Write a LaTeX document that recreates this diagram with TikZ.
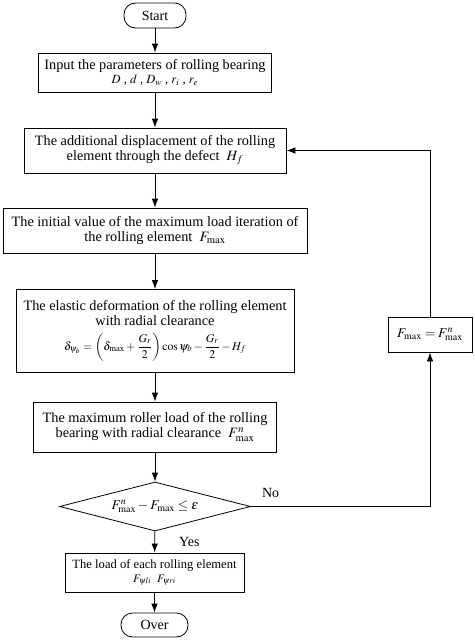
\documentclass[tikz,border=0pt]{standalone}
\usepackage{amsmath}
\usepackage{mathptmx}
\usepackage{fontspec}
\setmainfont{Liberation Serif}
\usepackage{tikz}
\usetikzlibrary{shapes.geometric,arrows.meta}

\begin{document}
\begin{tikzpicture}[x=1pt,y=1pt,yscale=-1,xscale=1,
    procbox/.style={draw,line width=0.8pt,inner sep=0pt,align=center,font=\fontsize{14.3}{14.9}\selectfont},
    termbox/.style={draw,line width=0.8pt,rounded corners=11.5pt,inner sep=0pt,font=\fontsize{14}{15}\selectfont},
    decbox/.style={draw,diamond,line width=0.8pt,inner sep=0pt,aspect=3.9,minimum width=191pt,minimum height=49pt,font=\fontsize{13.5}{15}\selectfont},
    flowarrow/.style={draw,line width=0.8pt,-{Latex[length=9pt,width=6.5pt]}}]
        \useasboundingbox (0,0) rectangle (474,640);

        \draw (155,15.5) node (start) [termbox,minimum width=62pt,minimum height=25pt] {Start};
        \draw (155,72.5) node (input) [procbox,minimum width=233pt,minimum height=39pt] {Input the parameters of rolling bearing\\[-1pt] {\fontsize{12.5}{13}\selectfont $D$ , $d$ , $D_{w}$ , $r_{i}$ , $r_{e}$}};
        \draw (155,150.5) node (disp) [procbox,minimum width=262pt,minimum height=45pt] {The additional displacement of the rolling\\ element through the defect \ $H_{f}$};
        \draw (155,230.5) node (init) [procbox,minimum width=304pt,minimum height=45pt] {The initial value of the maximum load iteration of\\ the rolling element \ $F_{\max}$};
        \draw (155,331) node (elastic) [procbox,minimum width=278pt,minimum height=83pt] {The elastic deformation of the rolling element\\ with radial clearance\\[6pt] {\fontsize{11.8}{13}\selectfont $\delta_{\psi_b}=\left(\delta_{\max}+\dfrac{G_r}{2}\right)\cos\psi_b-\dfrac{G_r}{2}-H_f$}};
        \draw (155,427) node (maxload) [procbox,minimum width=243pt,minimum height=50pt] {The maximum roller load of the rolling\\ bearing with radial clearance \ $F^{n}_{\max}$};
        \draw (155,506.5) node (check) [decbox] {$F^{n}_{\max}-F_{\max}\le\varepsilon$};
        \draw (430,334.5) node (update) [procbox,minimum width=84pt,minimum height=35pt,font=\fontsize{13.5}{15}\selectfont] {$F_{\max}=F^{n}_{\max}$};
        \draw (154.5,572.5) node (each) [procbox,minimum width=179pt,minimum height=39pt,font=\fontsize{12.6}{14}\selectfont] {The load of each rolling element\\ {\fontsize{11.5}{12}\selectfont $F_{\psi li}$ \ $F_{\psi ri}$}};
        \draw (154.5,625) node (over) [termbox,minimum width=67pt,minimum height=24pt] {Over};

        % main chain
        \draw [flowarrow] (start) -- (input);
        \draw [flowarrow] (input) -- (disp);
        \draw [flowarrow] (disp) -- (init);
        \draw [flowarrow] (init) -- (elastic);
        \draw [flowarrow] (elastic) -- (maxload);
        \draw [flowarrow] (maxload) -- (check);
        \draw [flowarrow] (check) -- node [anchor=west,inner sep=0pt,xshift=24pt,font=\fontsize{14}{15}\selectfont] {Yes} (each);
        \draw [flowarrow] (each) -- (over);

        % loop back
        \draw [flowarrow] (check.east) -- (update.south |- check.east) node [pos=0.06,anchor=south west,inner sep=0pt,yshift=8pt,font=\fontsize{14}{15}\selectfont] {No} -- (update.south);
        \draw [flowarrow] (update.north) -- (update.north |- disp.east) -- (disp.east);
    \end{tikzpicture}
\end{document}
